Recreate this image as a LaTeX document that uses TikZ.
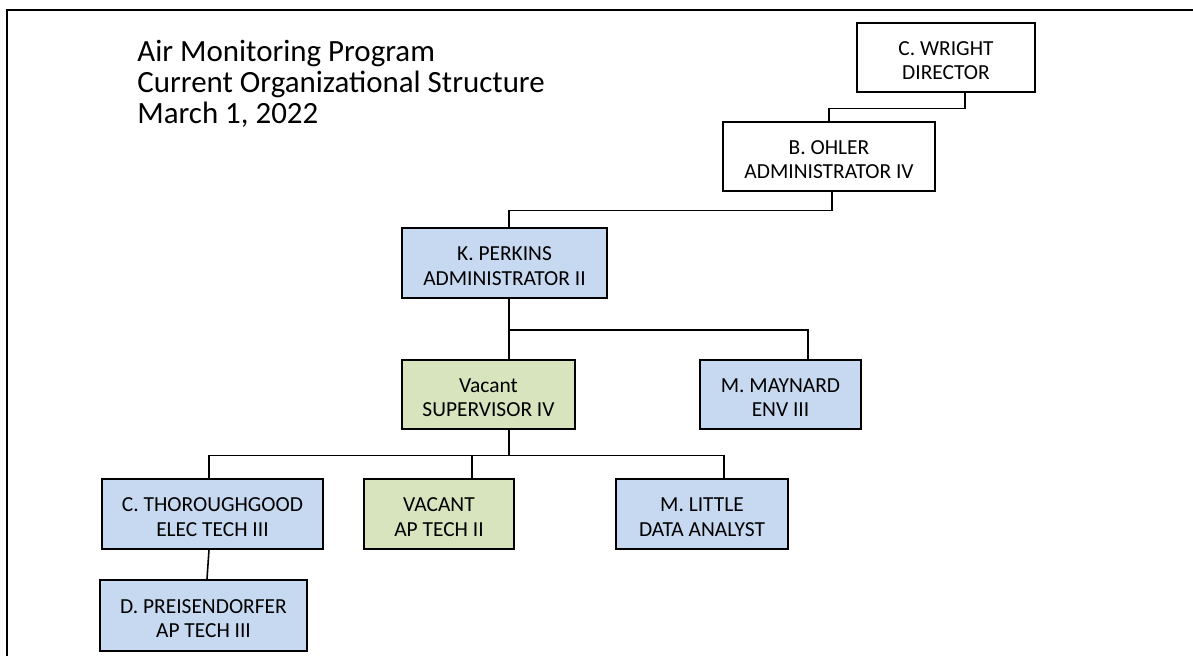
\documentclass[tikz,border=0pt]{standalone}
\usepackage{fontspec}
\setmainfont{Carlito}
\usetikzlibrary{calc}
\definecolor{pblue}{RGB}{198,217,241}
\definecolor{vgreen}{RGB}{215,228,189}

\begin{document}
\begin{tikzpicture}[x=0.02cm,y=-0.02cm,
  box/.style={draw,line width=1.3pt,minimum height=1.39cm,inner sep=0pt,
    align=center,text height=25.2pt,text depth=0pt,
    font=\fontsize{12.2}{14}\selectfont},
  pbox/.style={box,fill=pblue},
  vbox/.style={box,fill=vgreen},
  ttl/.style={anchor=base west,inner sep=0pt,font=\fontsize{17.6}{19}\selectfont},
  link/.style={line width=0.9pt}]

\useasboundingbox (0,0) rectangle (1193,656);
\draw[line width=1.5pt] (7,656) |- (1193,10);

\node[ttl] (t1) at (137,61) {Air Monitoring Program};
\node[ttl] (t2) at (137,92) {Current Organizational Structure};
\node[ttl] (t3) at (137,123) {March 1, 2022};

\node[box,minimum width=3.56cm] (wright) at (946,57.5) {C. WRIGHT\\DIRECTOR};

\node[box,minimum width=4.24cm] (ohler) at (829,156.5) {B. OHLER\\ADMINISTRATOR IV};

\node[pbox,minimum width=4.10cm] (perkins) at (504.5,263) {K. PERKINS\\ADMINISTRATOR II};

\node[vbox,minimum width=3.46cm] (super) at (488.5,394.5) {Vacant\\SUPERVISOR IV};
\node[pbox,minimum width=3.22cm] (maynard) at (780.5,394.5) {M. MAYNARD\\ENV III};

\node[pbox,minimum width=4.42cm] (thor) at (212.5,514) {C. THOROUGHGOOD\\ELEC TECH III};
\node[vbox,minimum width=3.00cm] (aptech) at (439,514) {VACANT\\AP TECH II};
\node[pbox,minimum width=3.44cm] (little) at (702,514) {M. LITTLE\\DATA ANALYST};

\node[pbox,minimum width=4.14cm,minimum height=1.42cm] (preis) at (203.5,615.5) {D. PREISENDORFER\\AP TECH III};

\coordinate (pk) at ($(perkins.south)+(4.5,0)$);
\coordinate (sv) at (pk |- super.south);

\draw[link] ($(wright.south)+(19,0)$) -- ++(0,15) -| (ohler.north);
\draw[link] ($(ohler.south)+(3,0)$) -- ++(0,18) -| ($(perkins.north)+(4.5,0)$);
\draw[link] (pk) -- (pk |- super.north);
\draw[link] (pk) -- ++(0,31) -| ($(maynard.north)+(27.5,0)$);
\draw[link] (sv) -- ++(0,25) coordinate (svbus);
\draw[link] (svbus) -| ($(thor.north)+(-3.5,0)$);
\draw[link] (svbus) -| ($(aptech.north)+(33,0)$);
\draw[link] (svbus) -| ($(little.north)+(22,0)$);
\draw[link] ($(thor.south)+(-3.5,0)$) -- ($(preis.north)+(3.5,0)$);

\end{tikzpicture}
\end{document}
